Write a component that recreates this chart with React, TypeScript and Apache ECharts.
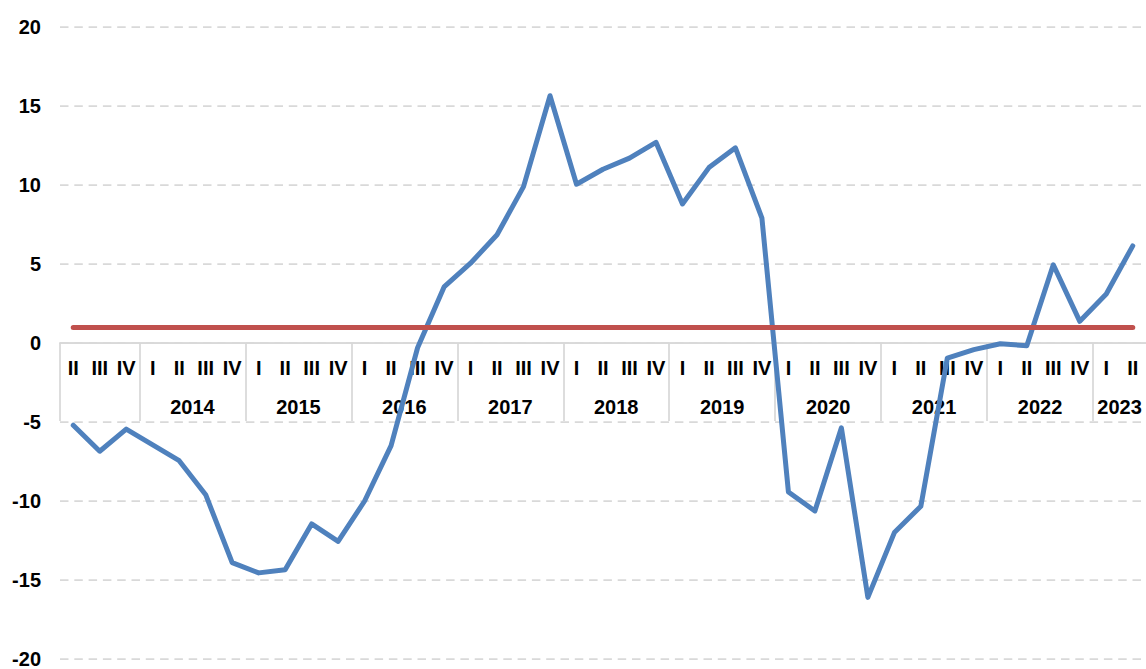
import React, { useEffect, useRef } from "react";
import * as echarts from "echarts";

// Quarter categories (year + quarter), 2013 Q2 .. 2023 Q2
const categories: string[] = [
  "2013 II", "2013 III", "2013 IV",
  "2014 I", "2014 II", "2014 III", "2014 IV",
  "2015 I", "2015 II", "2015 III", "2015 IV",
  "2016 I", "2016 II", "2016 III", "2016 IV",
  "2017 I", "2017 II", "2017 III", "2017 IV",
  "2018 I", "2018 II", "2018 III", "2018 IV",
  "2019 I", "2019 II", "2019 III", "2019 IV",
  "2020 I", "2020 II", "2020 III", "2020 IV",
  "2021 I", "2021 II", "2021 III", "2021 IV",
  "2022 I", "2022 II", "2022 III", "2022 IV",
  "2023 I", "2023 II",
];

// Series values
const values: number[] = [
  -5.2, -6.85, -5.45,
  -6.45, -7.45, -9.6, -13.9,
  -14.55, -14.35, -11.45, -12.55,
  -10.0, -6.5, -0.3, 3.55,
  5.05, 6.85, 9.9, 15.65,
  10.05, 11.0, 11.7, 12.7,
  8.8, 11.1, 12.35, 7.9,
  -9.43, -10.63, -5.37, -16.1,
  -12.0, -10.33, -0.95, -0.42,
  -0.05, -0.17, 4.95, 1.37,
  3.1, 6.15,
];

// Horizontal reference level (red line)
const thresholdValue = 1;

// Years that carry a label under the quarter row
const labelledYears: string[] = [
  "2014", "2015", "2016", "2017", "2018", "2019", "2020", "2021", "2022", "2023",
];

// y axis ticks
const yMin = -20;
const yMax = 20;
const yInterval = 5;

const FONT = "'Liberation Sans', Arial, Helvetica, sans-serif";

const GRID_TOP = 27;
const GRID_BOTTOM = 10;
const CHART_H = 669;

export default function App() {
  const ref = useRef<HTMLDivElement>(null);

  useEffect(() => {
    if (!ref.current) return;
    const chart = echarts.init(ref.current, undefined, { renderer: "svg" });

    // Build year groups from the categories
    const groups: { year: string; start: number; count: number }[] = [];
    categories.forEach((c, i) => {
      const y = c.split(" ")[0];
      const last = groups[groups.length - 1];
      if (last && last.year === y) last.count += 1;
      else groups.push({ year: y, start: i, count: 1 });
    });

    // Boundary axis: one point per category boundary
    const boundaryKeys: string[] = [];
    for (let k = 0; k <= categories.length; k++) boundaryKeys.push("b" + k);
    const boundaryLabel: Record<string, string> = {};
    const tickBoundaries = new Set<number>();
    groups.forEach((g) => {
      tickBoundaries.add(g.start);
      if (labelledYears.includes(g.year) && g.count % 2 === 0) {
        boundaryLabel["b" + (g.start + g.count / 2)] = g.year;
      }
    });

    // Offset that moves the bottom axes from the grid bottom up to value 0
    const gridH = CHART_H - GRID_TOP - GRID_BOTTOM;
    const zeroFromBottom = (gridH * (0 - yMin)) / (yMax - yMin);
    const axisOffset = -zeroFromBottom;

    const gridColor = "#d9d9d9";

    chart.setOption({
      animation: false,
      textStyle: { fontFamily: FONT },
      grid: {
        left: 60,
        right: 0,
        top: GRID_TOP,
        bottom: GRID_BOTTOM,
        containLabel: false,
        outerBoundsMode: "none",
      },
      xAxis: [
        {
          type: "category",
          data: categories,
          boundaryGap: true,
          position: "bottom",
          offset: axisOffset,
          axisLine: {
            show: true,
            onZero: false,
            lineStyle: { color: gridColor, width: 1.75 },
          },
          axisTick: { show: false },
          axisLabel: {
            interval: 0,
            margin: 15,
            color: "#000",
            fontWeight: "bold",
            fontSize: 20,
            fontFamily: FONT,
            formatter: (v: string) => v.split(" ")[1],
          },
          splitLine: { show: false },
        },
        {
          type: "category",
          data: boundaryKeys,
          boundaryGap: false,
          position: "bottom",
          offset: axisOffset,
          axisLine: {
            show: true,
            onZero: false,
            lineStyle: { color: gridColor, width: 1.75 },
          },
          axisTick: {
            show: true,
            interval: (idx: number) => tickBoundaries.has(idx),
            length: 78,
            lineStyle: { color: gridColor, width: 1.75 },
          },
          axisLabel: {
            interval: 0,
            margin: 54,
            color: "#000",
            fontWeight: "bold",
            fontSize: 20,
            fontFamily: FONT,
            formatter: (v: string) => boundaryLabel[v] || "",
          },
          splitLine: { show: false },
        },
      ],
      yAxis: {
        type: "value",
        min: yMin,
        max: yMax,
        interval: yInterval,
        axisLine: { show: false },
        axisTick: { show: false },
        axisLabel: {
          margin: 19,
          color: "#000",
          fontWeight: "bold",
          fontSize: 20,
          fontFamily: FONT,
        },
        splitLine: {
          show: true,
          lineStyle: { color: gridColor, width: 1.75, type: [8.5, 5.8] },
        },
      },
      series: [
        {
          type: "line",
          name: "value",
          xAxisIndex: 0,
          data: values,
          symbol: "none",
          z: 3,
          lineStyle: { color: "#4F81BD", width: 5, cap: "round", join: "round" },
          silent: true,
        },
        {
          type: "line",
          name: "threshold",
          xAxisIndex: 0,
          data: [],
          symbol: "none",
          z: 4,
          silent: true,
          markLine: {
            silent: true,
            symbol: ["none", "none"],
            label: { show: false },
            lineStyle: { color: "#C0504D", width: 5, type: "solid", cap: "round" },
            emphasis: { disabled: true },
            data: [
              [
                { coord: [categories[0], thresholdValue] },
                { coord: [categories[categories.length - 1], thresholdValue] },
              ],
            ],
          },
        },
      ],
    });

    return () => chart.dispose();
  }, []);

  return (
    <div
      ref={ref}
      style={{ position: "fixed", left: 0, top: 0, width: 1146, height: 669, background: "#fff" }}
    />
  );
}
